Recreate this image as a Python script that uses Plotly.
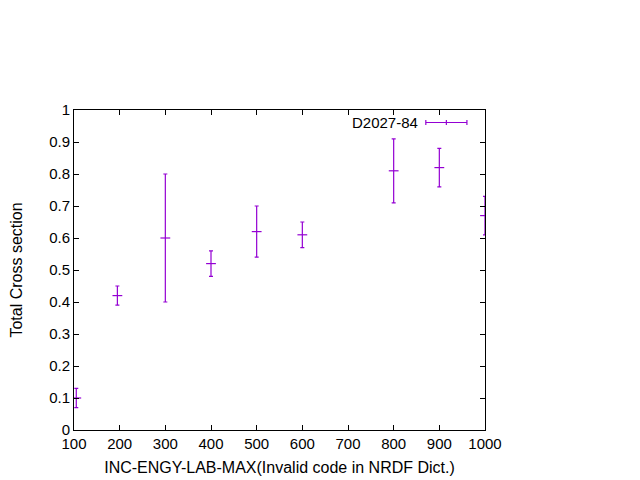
import plotly.graph_objects as go

energy = [105, 195, 300, 400, 500, 600, 800, 900, 1000]
xs = [0.10, 0.42, 0.60, 0.52, 0.62, 0.61, 0.81, 0.82, 0.67]
err = [0.03, 0.03, 0.20, 0.04, 0.08, 0.04, 0.10, 0.06, 0.06]
x_ticks = [100, 200, 300, 400, 500, 600, 700, 800, 900, 1000]
y_ticks = [0, 0.1, 0.2, 0.3, 0.4, 0.5, 0.6, 0.7, 0.8, 0.9, 1]
y_ticktext = ["0", "0.1", "0.2", "0.3", "0.4", "0.5", "0.6", "0.7", "0.8", "0.9", "1"]
series_name = "D2027-84"

color = "#9400D3"
family = "Liberation Sans, Arial, sans-serif"
font = dict(family=family, size=13.5, color="#000000")
tickfont = dict(family=family, size=15, color="#000000")

fig = go.Figure()
fig.add_trace(go.Scatter(
    x=energy, y=xs, mode="markers", name=series_name,
    marker=dict(symbol="line-ew", size=7, color=color, line=dict(color=color, width=1.2)),
    error_y=dict(type="data", array=err, visible=True, color=color, thickness=1.2, width=2),
    showlegend=False,
))

# page body has an 8px margin, so the figure is shrunk and margins offset accordingly
fig.update_layout(
    width=632, height=472,
    margin=dict(l=66, r=155, t=102, b=50),
    paper_bgcolor="white", plot_bgcolor="white",
    font=font,
)
fig.update_xaxes(
    range=[100, 1000], tickvals=x_ticks, ticks="inside", ticklen=5, tickcolor="black",
    tickfont=tickfont,
    showline=True, linecolor="black", linewidth=1, mirror="ticks", showgrid=False, zeroline=False,
    automargin=False,
    title=dict(text="INC-ENGY-LAB-MAX(Invalid code in NRDF Dict.)", standoff=10),
)
fig.update_yaxes(
    range=[0, 1], tickvals=y_ticks, ticktext=y_ticktext, ticks="inside", ticklen=5, tickcolor="black",
    tickfont=tickfont,
    showline=True, linecolor="black", linewidth=1, mirror="ticks", showgrid=False, zeroline=False,
    automargin=False,
    title=dict(text="Total Cross section", standoff=30),
)

# legend key (gnuplot style: text on the left, errorbar sample on the right)
ly = 0.961
fig.add_annotation(xref="paper", yref="paper", x=0.842, y=ly, text=series_name,
                   showarrow=False, xanchor="right", yanchor="middle", font=tickfont)
for shp in [
    dict(x0=0.856, x1=0.956, y0=ly, y1=ly),
    dict(x0=0.856, x1=0.856, y0=ly - 0.008, y1=ly + 0.008),
    dict(x0=0.956, x1=0.956, y0=ly - 0.008, y1=ly + 0.008),
    dict(x0=0.906, x1=0.906, y0=ly - 0.008, y1=ly + 0.008),
]:
    fig.add_shape(type="line", xref="paper", yref="paper", line=dict(color=color, width=1.2), **shp)

fig.write_html("out.html")
